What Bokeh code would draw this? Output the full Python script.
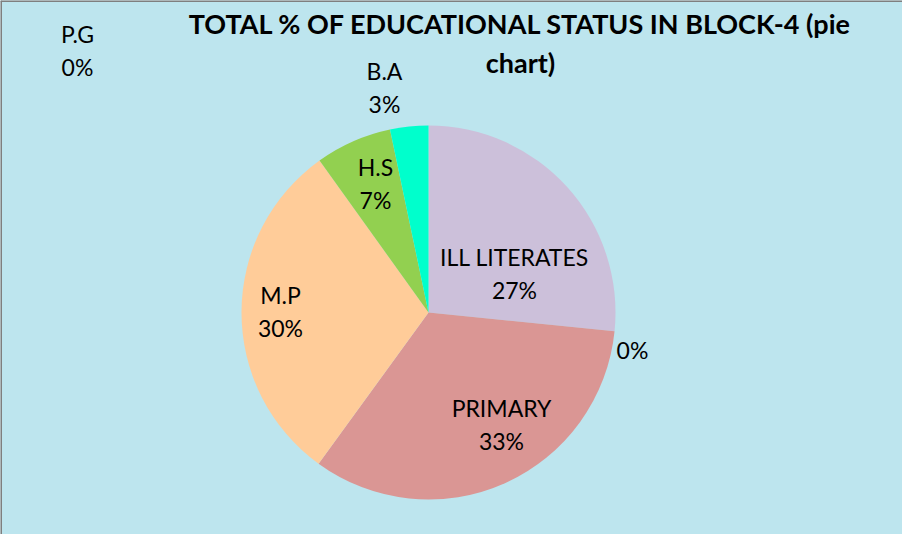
import numpy as np
from bokeh.plotting import figure
from bokeh.models import ColumnDataSource, Range1d, Span
from bokeh.core.properties import value
from bokeh.embed import file_html
from bokeh.resources import INLINE

# ---- data ----
categories = ["ILL LITERATES", "", "PRIMARY", "M.P", "H.S", "B.A", "P.G"]
shares = [26.6, 0.0, 33.4, 30.1, 6.6, 3.3, 0.0]
colors = ["#CCC0DA", "#4F81BD", "#DA9694", "#FFCC99", "#92D050", "#00FFCC", "#8064A2"]
title_lines = ["TOTAL % OF EDUCATIONAL STATUS IN BLOCK-4 (pie", "chart)"]

# ---- layout ----
W, H = 902, 534
cx, cy, R = 428, 222, 187
# label block centres (pixel offsets from pie centre, y up)
lab_dx = [86, 204, 73, -148, -53, -44, -351]
lab_dy = [39, -37, -112, 1, 129, 225, 262]
line_gap = 33
FONT = "Lato"

vals = np.array(shares, dtype=float)
frac = vals / vals.sum()
ends = np.cumsum(frac) * 2 * np.pi
starts = ends - frac * 2 * np.pi
start_angle = np.pi / 2 - starts
end_angle = np.pi / 2 - ends
pct = [f"{int(round(f * 100))}%" for f in frac]

p = figure(width=W, height=H, output_backend="svg", toolbar_location=None,
           x_range=Range1d(0, W), y_range=Range1d(0, H), min_border=0)
p.axis.visible = False
p.grid.visible = False
p.background_fill_color = "#BDE5EE"
p.border_fill_color = "#BDE5EE"
p.outline_line_color = None

p.add_layout(Span(location=0, dimension="height", line_color="#7F7F7F", line_width=3))
p.add_layout(Span(location=H, dimension="width", line_color="#7F7F7F", line_width=3))

keep = vals > 0
src = ColumnDataSource(dict(start=start_angle[keep], end=end_angle[keep],
                            color=[c for c, k in zip(colors, keep) if k]))
p.wedge(x=cx, y=cy, radius=R, start_angle="start", end_angle="end",
        direction="clock", fill_color="color", line_color=None, source=src)

# labels
xs, ys, ts = [], [], []
for cat, pc, dx, dy in zip(categories, pct, lab_dx, lab_dy):
    if cat:
        xs += [cx + dx, cx + dx]
        ys += [cy + dy + line_gap / 2, cy + dy - line_gap / 2]
        ts += [cat, pc]
    else:
        xs.append(cx + dx)
        ys.append(cy + dy)
        ts.append(pc)
p.text(x=xs, y=ys, text=ts, text_font=value(FONT), text_font_size="23px",
       text_align="center", text_baseline="middle", text_color="#000000")

# title
p.text(x=[520, 520], y=[H - 23, H - 62], text=title_lines, text_font=value(FONT),
       text_font_size="27px", text_font_style="bold", text_align="center",
       text_baseline="middle", text_color="#000000")

open("out.html", "w").write(file_html(p, INLINE))
